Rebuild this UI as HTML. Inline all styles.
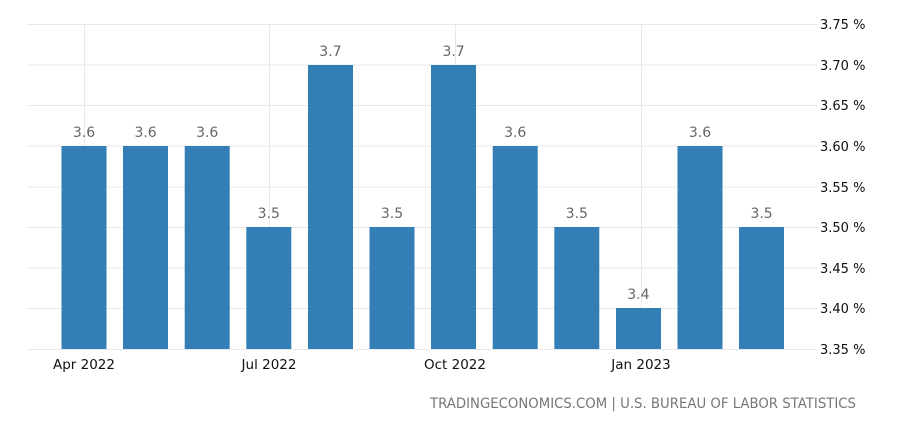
<!DOCTYPE html>
<html><head><style>body{margin:0;background:#fff}svg{display:block}text{font-family:"DejaVu Sans","Liberation Sans",sans-serif}</style></head>
<body>
<svg width="913" height="425" xmlns="http://www.w3.org/2000/svg">
<g stroke="#e8e8e8" stroke-width="1">
<line x1="27" x2="818" y1="24.5" y2="24.5"/><line x1="27" x2="818" y1="65" y2="65"/><line x1="27" x2="818" y1="105.5" y2="105.5"/><line x1="27" x2="818" y1="146" y2="146"/><line x1="27" x2="818" y1="187" y2="187"/><line x1="27" x2="818" y1="227.5" y2="227.5"/><line x1="27" x2="818" y1="268" y2="268"/><line x1="27" x2="818" y1="308.5" y2="308.5"/><line x1="27" x2="818" y1="349.5" y2="349.5"/>
<line x1="84.5" x2="84.5" y1="24" y2="349"/><line x1="269.5" x2="269.5" y1="24" y2="349"/><line x1="455.5" x2="455.5" y1="24" y2="349"/><line x1="641.5" x2="641.5" y1="24" y2="349"/>
</g>
<g fill="#337fb5">
<rect x="61.5" y="146" width="45" height="203"/><rect x="123" y="146" width="45" height="203"/><rect x="184.7" y="146" width="45" height="203"/><rect x="246.3" y="227" width="45" height="122"/><rect x="308" y="65" width="45" height="284"/><rect x="369.5" y="227" width="45" height="122"/><rect x="431" y="65" width="45" height="284"/><rect x="492.7" y="146" width="45" height="203"/><rect x="554.3" y="227" width="45" height="122"/><rect x="616" y="308" width="45" height="41"/><rect x="677.5" y="146" width="45" height="203"/><rect x="739" y="227" width="45" height="122"/>
</g>
<g fill="#666" font-size="14" text-anchor="middle">
<text x="84" y="137">3.6</text><text x="145.6" y="137">3.6</text><text x="207.2" y="137">3.6</text><text x="268.8" y="218">3.5</text><text x="330.4" y="56">3.7</text><text x="392" y="218">3.5</text><text x="453.6" y="56">3.7</text><text x="515.2" y="137">3.6</text><text x="576.8" y="218">3.5</text><text x="638.4" y="299">3.4</text><text x="700" y="137">3.6</text><text x="761.6" y="218">3.5</text>
</g>
<g fill="#111" font-size="13.5" text-anchor="middle">
<text x="84" y="369">Apr 2022</text><text x="269" y="369">Jul 2022</text><text x="455" y="369">Oct 2022</text><text x="641" y="369">Jan 2023</text>
</g>
<g fill="#111" font-size="13">
<text x="820" y="29">3.75 %</text><text x="820" y="70">3.70 %</text><text x="820" y="110">3.65 %</text><text x="820" y="151">3.60 %</text><text x="820" y="192">3.55 %</text><text x="820" y="232">3.50 %</text><text x="820" y="273">3.45 %</text><text x="820" y="313">3.40 %</text><text x="820" y="354">3.35 %</text>
</g>
<text x="430" y="408" fill="#777" font-size="14" textLength="426" lengthAdjust="spacingAndGlyphs">TRADINGECONOMICS.COM | U.S. BUREAU OF LABOR STATISTICS</text>
</svg>
</body></html>
